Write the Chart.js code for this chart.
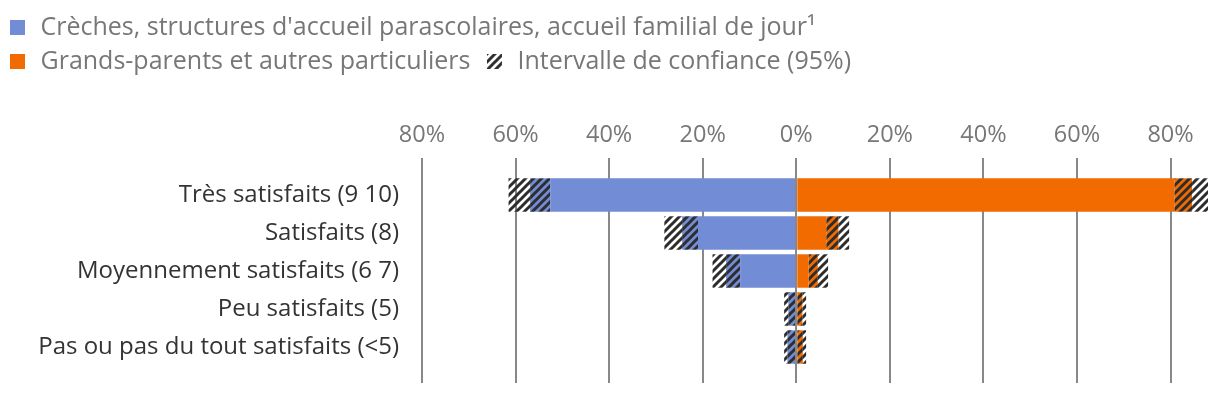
<!DOCTYPE html>
<html>
<head>
<meta charset="utf-8">
<script src="https://cdn.jsdelivr.net/npm/chart.js@4/dist/chart.umd.min.js"></script>
<style>
  html, body { margin: 0; padding: 0; background: #fff; overflow: hidden; }
  canvas { display: block; }
</style>
</head>
<body>
<canvas id="satisfactionChart" width="1220" height="394"></canvas>
<script>
// Categories (top to bottom)
const categories = [
    'Très satisfaits (9 10)',
    'Satisfaits (8)',
    'Moyennement satisfaits (6 7)',
    'Peu satisfaits (5)',
    'Pas ou pas du tout satisfaits (<5)'
];

// Crèches, structures d'accueil parascolaires... (drawn to the left), in %
const crecheLow = [52.6, 21.0, 12.0, 0, 0];
const crecheValue = [56.9, 24.4, 15.0, 1.7, 1.9];
const crecheHigh = [61.5, 28.2, 17.9, 2.6, 2.6];

// Grands-parents et autres particuliers (drawn to the right), in %
const grandLow = [80.8, 6.4, 2.6, 0, 0];
const grandValue = [84.6, 9.0, 4.6, 1.3, 1.4];
const grandHigh = [88.0, 11.3, 6.8, 2.1, 2.1];

const tickValues = [-80, -60, -40, -20, 0, 20, 40, 60, 80];

const BLUE = '#728cd6';
const ORANGE = '#f26b00';
const GRID = '#888888';

Chart.defaults.font.family = "'Open Sans', sans-serif";

// diagonal hatch tile, bg = null gives a transparent background
function hatchTile(bg) {
    const c = document.createElement('canvas');
    c.width = 8; c.height = 8;
    const g = c.getContext('2d');
    if (bg) { g.fillStyle = bg; g.fillRect(0, 0, 8, 8); }
    g.strokeStyle = '#2d2d2d';
    g.lineWidth = 3;
    g.beginPath();
    g.moveTo(-2, 10); g.lineTo(10, -2);
    g.moveTo(-2, 2); g.lineTo(2, -2);
    g.moveTo(6, 10); g.lineTo(10, 6);
    g.stroke();
    return c;
}

const ctx = document.getElementById('satisfactionChart').getContext('2d');
const hatchBlue = ctx.createPattern(hatchTile(BLUE), 'repeat');
const hatchOrange = ctx.createPattern(hatchTile(ORANGE), 'repeat');
const hatchEmpty = ctx.createPattern(hatchTile(null), 'repeat');

// legend icons: 15px square at the left of the icon canvas
function legendIcon(kind) {
    const c = document.createElement('canvas');
    c.width = 17; c.height = 15;
    const g = c.getContext('2d');
    if (kind === 'hatch') {
        g.fillStyle = '#fff';
        g.fillRect(0, 0, 15, 15);
        g.fillStyle = g.createPattern(hatchTile(null), 'repeat');
    } else {
        g.fillStyle = kind;
    }
    g.fillRect(0, 0, 15, 15);
    return c;
}

const diff = (a, b) => a.map((v, i) => Math.round((v - b[i]) * 10) / 10);
const neg = (a) => a.map(v => (v === 0 ? 0 : -v));

const datasets = [
    { data: neg(crecheLow), backgroundColor: BLUE },
    { data: neg(diff(crecheValue, crecheLow)), backgroundColor: hatchBlue },
    { data: neg(diff(crecheHigh, crecheValue)), backgroundColor: hatchEmpty },
    { data: grandLow, backgroundColor: ORANGE },
    { data: diff(grandValue, grandLow), backgroundColor: hatchOrange },
    { data: diff(grandHigh, grandValue), backgroundColor: hatchEmpty }
];
datasets.forEach(d => {
    d.stack = 'all';
    d.borderWidth = 0;
    d.barPercentage = 0.88;
    d.categoryPercentage = 1.0;
});

// trailing space keeps the gap before the next legend entry
const legendItems = [
    { text: "Crèches, structures d'accueil parascolaires, accueil familial de jour\u00b9", icon: BLUE },
    { text: 'Grands-parents et autres particuliers ', icon: ORANGE },
    { text: 'Intervalle de confiance (95%)', icon: 'hatch' }
];

// zero line is drawn over the bars
const zeroLine = {
    id: 'zeroLine',
    afterDatasetsDraw(chart) {
        const { ctx, chartArea, scales } = chart;
        const px = Math.round(scales.x.getPixelForValue(0));
        ctx.save();
        ctx.strokeStyle = GRID;
        ctx.lineWidth = 2;
        ctx.beginPath();
        ctx.moveTo(px, chartArea.top);
        ctx.lineTo(px, chartArea.bottom);
        ctx.stroke();
        ctx.restore();
    }
};

new Chart(ctx, {
    type: 'bar',
    data: { labels: categories, datasets: datasets },
    plugins: [zeroLine],
    options: {
        indexAxis: 'y',
        responsive: false,
        animation: false,
        layout: { padding: { top: 6, right: 12, bottom: 11, left: 0 } },
        scales: {
            x: {
                type: 'linear',
                position: 'top',
                stacked: true,
                min: -80,
                max: 88,
                afterFit: s => { s.height = 92; },
                afterBuildTicks: s => { s.ticks = tickValues.map(v => ({ value: v })); },
                ticks: {
                    padding: 9,
                    color: '#777',
                    font: { size: 23.5 },
                    callback: v => Math.abs(v) + '%'
                },
                grid: { color: GRID, lineWidth: 2, tickLength: 18 },
                border: { display: false }
            },
            // bottom axis only adds the short grid ends below the bars
            x2: {
                type: 'linear',
                position: 'bottom',
                min: -80,
                max: 88,
                afterBuildTicks: s => { s.ticks = tickValues.map(v => ({ value: v })); },
                ticks: { display: false },
                grid: { color: GRID, lineWidth: 2, tickLength: 17, drawOnChartArea: false },
                border: { display: false }
            },
            y: {
                stacked: true,
                afterFit: s => { s.width = 422; },
                ticks: { padding: 0, color: '#333', font: { size: 24 } },
                grid: { display: false, drawTicks: true, tickLength: 23 },
                border: { display: false }
            }
        },
        plugins: {
            legend: {
                position: 'top',
                align: 'start',
                labels: {
                    usePointStyle: true,
                    pointStyleWidth: 19,
                    padding: 9,
                    color: '#777',
                    font: { size: 25 },
                    generateLabels: () => legendItems.map(it => ({
                        text: it.text,
                        pointStyle: legendIcon(it.icon),
                        fillStyle: 'transparent',
                        strokeStyle: 'transparent',
                        lineWidth: 0,
                        hidden: false,
                        fontColor: '#777'
                    }))
                }
            },
            tooltip: { enabled: false }
        }
    }
});
</script>
</body>
</html>
